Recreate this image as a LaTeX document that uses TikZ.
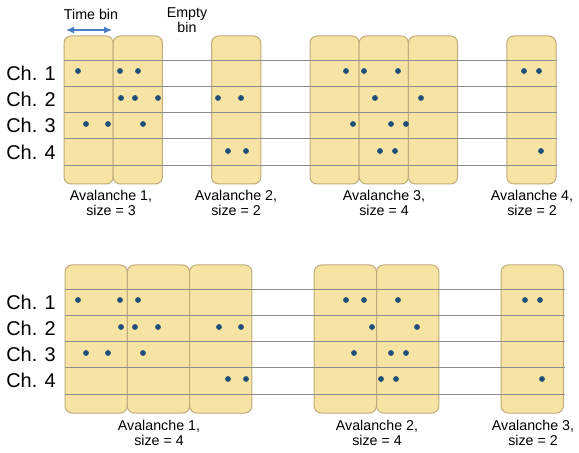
\documentclass[tikz,border=0pt]{standalone}
\usepackage{fontspec}
\setmainfont{Liberation Sans}
\usetikzlibrary{arrows.meta}
\definecolor{binfill}{HTML}{F7E3A3}
\definecolor{binedge}{HTML}{C2AB7A}
\definecolor{gridgray}{HTML}{8C8C8C}
\definecolor{spike}{HTML}{1F4E79}
\definecolor{arrowblue}{HTML}{4A7CC4}
\tikzset{
  binbox/.style={draw=binedge, fill=binfill, line width=1bp, rounded corners=7bp, inner sep=0pt, minimum height=148bp},
  toprow/.style={binbox, minimum width=49.2bp},
  botrow/.style={binbox, minimum width=62.3bp},
  chanline/.style={draw=gridgray, line width=0.9bp},
  dot/.style={circle, fill=spike, inner sep=0pt, minimum size=5.8bp},
  chlabel/.style={anchor=east, inner sep=0pt, font=\fontsize{20}{24}\selectfont},
  smalltext/.style={align=center, inner sep=0pt, font=\fontsize{14.3}{15.5}\selectfont},
  binarrow/.style={draw=arrowblue, line width=1.2bp, {Latex[length=8bp,width=7bp]}-{Latex[length=8bp,width=7bp]}}
}
\begin{document}
\begin{tikzpicture}[x=1bp,y=-1bp]
\useasboundingbox (0,0) rectangle (579,453);

% ---------- top panel ----------
\foreach \k in {0,1,3,5,6,7,9}
  \node[toprow] (tb\k) at ({64+49.2*\k+24.6},110) {};
\foreach \y [count=\i] in {60,86.25,112.5,138.75,165} {
  \coordinate (tl\i) at (64,\y);
  \coordinate (tr\i) at (557,\y);
  \draw[chanline] (tl\i) -- (tr\i);
}
\foreach \y/\t [count=\i] in {73/1,99/2,125.5/3,152/4}
  \node[chlabel] (tch\i) at (56,\y) {Ch. \t};

\foreach \x [count=\i] in {78,120,138,346,364,398,524,539}
  \node[dot] (ta\i) at (\x,71) {};
\foreach \x [count=\i] in {121,135,158,218,241,375,421}
  \node[dot] (tbb\i) at (\x,98) {};
\foreach \x [count=\i] in {86,108,143,353,391,406}
  \node[dot] (tc\i) at (\x,124) {};
\foreach \x [count=\i] in {228,246,380,395,541}
  \node[dot] (td\i) at (\x,151) {};

\coordinate (arrL) at (66,30);
\coordinate (arrR) at (112,30);
\draw[binarrow] (arrL) -- (arrR);
\node[smalltext] (timebin) at (91,14) {Time bin};
\node[smalltext] (emptybin) at (187,20) {Empty\\bin};

\node[smalltext, anchor=north] (tav1) at (111,190) {Avalanche 1,\\size = 3};
\node[smalltext, anchor=north] (tav2) at (236,190) {Avalanche 2,\\size = 2};
\node[smalltext, anchor=north] (tav3) at (384,190) {Avalanche 3,\\size = 4};
\node[smalltext, anchor=north] (tav4) at (532,190) {Avalanche 4,\\size = 2};

% ---------- bottom panel ----------
\foreach \k in {0,1,2,4,5,7}
  \node[botrow] (bb\k) at ({65+62.3*\k+31.15},339) {};
\foreach \y [count=\i] in {289,315.25,341.5,367.75,394} {
  \coordinate (bl\i) at (65,\y);
  \coordinate (br\i) at (565,\y);
  \draw[chanline] (bl\i) -- (br\i);
}
\foreach \y/\t [count=\i] in {302/1,328/2,354/3,380/4}
  \node[chlabel] (bch\i) at (56,\y) {Ch. \t};

\foreach \x [count=\i] in {78,120,138,346,364,398,525,540}
  \node[dot] (ba\i) at (\x,300) {};
\foreach \x [count=\i] in {121,135,158,219,241,372,417}
  \node[dot] (bbd\i) at (\x,327) {};
\foreach \x [count=\i] in {86,108,143,354,391,406}
  \node[dot] (bc\i) at (\x,353) {};
\foreach \x [count=\i] in {228,246,381,396,542}
  \node[dot] (bd\i) at (\x,379) {};

\node[smalltext, anchor=north] (bav1) at (159,420) {Avalanche 1,\\size = 4};
\node[smalltext, anchor=north] (bav2) at (377,420) {Avalanche 2,\\size = 4};
\node[smalltext, anchor=north] (bav3) at (533,420) {Avalanche 3,\\size = 2};
\end{tikzpicture}
\end{document}
